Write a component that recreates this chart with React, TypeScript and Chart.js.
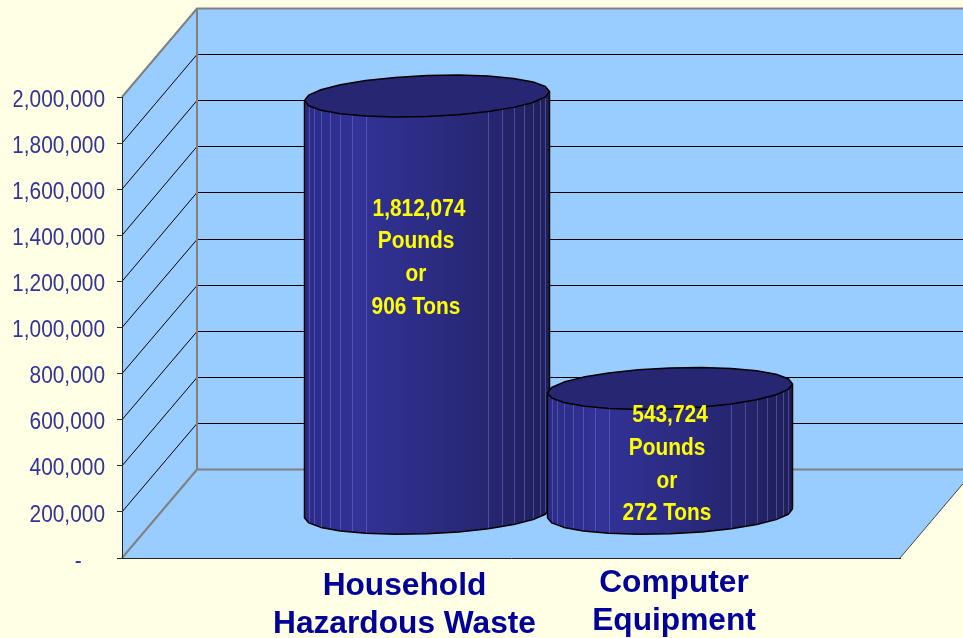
import React, { useEffect, useRef } from "react";
import { Chart, registerables } from "chart.js";

Chart.register(...registerables);

// ---- data ----
const categories = [["Household", "Hazardous Waste"], ["Computer", "Equipment"]];
const categoryPositions = [0, 1];
const pounds = [1812074, 543724];
const tons = [906, 272];
const yTicks = { min: 0, max: 2000000, step: 200000 };

// ---- layout and style ----
const W = 963;
const H = 638;
const AREA = { left: 122, right: 900, top: 97, bottom: 558 };
const DEPTH_X = 75;
const DEPTH_Y = 88.5;
const X_MIN = -1.1008;
const X_MAX = 2.1008;
const tickLabelPositions = [0.0617, 1.1708];
const tickLabelLift = [0, 3];
const BAR_WIDTH = 245;
const RY = 20.5;
const TILT = 4.5;
const SQUEEZE = 0.87;
const Y_LABEL_RIGHT = 105;
const valueLabelShift = [{ dx: -11, dy: 113 }, { dx: -3, dy: 27 }];
const BG = "#ffffe6";
const WALL = "#99ccff";
const AXIS_TEXT = "#333399";
const CAT_TEXT = "#000099";
const FONT = "'Liberation Sans', Arial, sans-serif";

const fmt = (v: number) => v.toLocaleString("en-US");

const backdrop = {
  id: "backdrop",
  beforeDraw(chart: any) {
    const { ctx, scales } = chart;
    const y = scales.y;
    const x0 = AREA.left;
    const x1 = AREA.left + DEPTH_X;
    const y0 = y.getPixelForValue(yTicks.min);
    const yTop = y.getPixelForValue(yTicks.max);
    const floorRightY = y0 - (DEPTH_Y * (W - AREA.right)) / DEPTH_X;
    ctx.save();
    ctx.fillStyle = BG;
    ctx.fillRect(0, 0, W, H);

    // walls and floor
    ctx.fillStyle = WALL;
    ctx.beginPath();
    ctx.moveTo(x0, yTop);
    ctx.lineTo(x1, yTop - DEPTH_Y);
    ctx.lineTo(W, yTop - DEPTH_Y);
    ctx.lineTo(W, floorRightY);
    ctx.lineTo(AREA.right, y0);
    ctx.lineTo(x0, y0);
    ctx.closePath();
    ctx.fill();

    // gridlines
    ctx.strokeStyle = "#000";
    ctx.lineWidth = 1;
    for (let v = yTicks.min + yTicks.step; v < yTicks.max; v += yTicks.step) {
      const py = y.getPixelForValue(v);
      const back = Math.floor(py - DEPTH_Y) + 0.5;
      ctx.beginPath();
      ctx.moveTo(x0, py);
      ctx.lineTo(x1, back);
      ctx.lineTo(W, back);
      ctx.stroke();
    }

    // outline of the walls
    ctx.strokeStyle = "#808080";
    ctx.lineWidth = 2;
    ctx.beginPath();
    ctx.moveTo(x0, yTop);
    ctx.lineTo(x1, yTop - DEPTH_Y);
    ctx.lineTo(W, yTop - DEPTH_Y);
    ctx.moveTo(x1, yTop - DEPTH_Y);
    ctx.lineTo(x1, y0 - DEPTH_Y);
    ctx.lineTo(W, y0 - DEPTH_Y);
    ctx.moveTo(x1, y0 - DEPTH_Y);
    ctx.lineTo(x0, y0);
    ctx.stroke();

    ctx.strokeStyle = "#444";
    ctx.lineWidth = 1;
    ctx.beginPath();
    ctx.moveTo(AREA.right, y0);
    ctx.lineTo(W, floorRightY);
    ctx.stroke();
    ctx.restore();

    // second category label sits slightly higher than the first
    const items = scales.x.getLabelItems?.();
    if (items && !items.__lifted) {
      items.forEach((it: any, i: number) => {
        if (it.options?.translation) it.options.translation[1] -= tickLabelLift[i] || 0;
      });
      items.__lifted = true;
    }

    // the value-axis labels are a horizontally condensed face in the reference
    if (!y.__squeezed) {
      const draw = y.drawLabels.bind(y);
      y.drawLabels = (area: any) => {
        ctx.save();
        ctx.translate(Y_LABEL_RIGHT, 0);
        ctx.scale(SQUEEZE, 1);
        ctx.translate(-Y_LABEL_RIGHT, 0);
        draw(area);
        ctx.restore();
      };
      y.__squeezed = true;
    }
  },
};

const cylinders = {
  id: "cylinders",
  afterDatasetsDraw(chart: any) {
    const { ctx } = chart;
    const meta = chart.getDatasetMeta(0);
    const dy = DEPTH_Y / 2;
    const dx = DEPTH_X / 2;
    const STEP = 15;
    const pt = (cx: number, yc: number, r: number, deg: number): [number, number] => {
      const a = (deg * Math.PI) / 180;
      return [cx + r * Math.cos(a), yc + RY * Math.sin(a) - TILT * Math.cos(a)];
    };

    meta.data.forEach((el: any, i: number) => {
      const r = el.width / 2;
      const cx = el.x + dx;
      const yt = el.y - dy;
      const yb = el.base - dy;
      ctx.save();
      ctx.lineJoin = "round";

      const grad = ctx.createLinearGradient(cx - r, 0, cx + r, 0);
      grad.addColorStop(0, "#2b2b86");
      grad.addColorStop(0.22, "#323298");
      grad.addColorStop(0.55, "#2b2b80");
      grad.addColorStop(0.8, "#25246c");
      grad.addColorStop(1, "#1f1f58");

      // body
      ctx.beginPath();
      const s = pt(cx, yt, r, 0);
      ctx.moveTo(s[0], s[1]);
      for (let d = 0; d <= 180; d += STEP) {
        const p = pt(cx, yb, r, d);
        ctx.lineTo(p[0], p[1]);
      }
      for (let d = 180; d >= 0; d -= STEP) {
        const p = pt(cx, yt, r, d);
        ctx.lineTo(p[0], p[1]);
      }
      ctx.closePath();
      ctx.fillStyle = grad;
      ctx.fill();

      // facet edges
      ctx.lineWidth = 1;
      ctx.strokeStyle = "rgba(110,115,210,0.5)";
      for (let d = 15; d <= 60; d += 7.5) {
        [d, 180 - d].forEach((deg) => {
          const a = pt(cx, yb, r, deg);
          const b = pt(cx, yt, r, deg);
          ctx.beginPath();
          ctx.moveTo(Math.round(a[0]) + 0.5, a[1]);
          ctx.lineTo(Math.round(a[0]) + 0.5, b[1]);
          ctx.stroke();
        });
      }

      // outline of body
      ctx.strokeStyle = "#000";
      ctx.lineWidth = 1.5;
      ctx.beginPath();
      ctx.moveTo(s[0], s[1]);
      for (let d = 0; d <= 180; d += STEP) {
        const p = pt(cx, yb, r, d);
        ctx.lineTo(p[0], p[1]);
      }
      const e = pt(cx, yt, r, 180);
      ctx.lineTo(e[0], e[1]);
      ctx.stroke();

      // top cap
      ctx.beginPath();
      for (let d = 0; d < 360; d += STEP) {
        const p = pt(cx, yt, r, d);
        if (d === 0) ctx.moveTo(p[0], p[1]);
        else ctx.lineTo(p[0], p[1]);
      }
      ctx.closePath();
      ctx.fillStyle = "#262673";
      ctx.fill();
      ctx.stroke();

      // value labels
      const shift = valueLabelShift[i];
      const lines = [fmt(pounds[i]), "Pounds", "or", `${tons[i]} Tons`];
      ctx.fillStyle = "#ffff00";
      ctx.font = `bold 24px ${FONT}`;
      ctx.textAlign = "center";
      ctx.textBaseline = "middle";
      lines.forEach((t, k) => {
        ctx.save();
        ctx.translate(cx + shift.dx + (k === 0 ? 3 : 0), yt + shift.dy + k * 32.8);
        ctx.scale(SQUEEZE, 1);
        ctx.fillText(t, 0, 0);
        ctx.restore();
      });
      ctx.restore();
    });
  },
};

export default function App() {
  const ref = useRef<HTMLCanvasElement | null>(null);

  useEffect(() => {
    document.body.style.background = BG;
    const chart = new Chart(ref.current as HTMLCanvasElement, {
      type: "bar",
      data: {
        datasets: [
          {
            label: "Pounds",
            data: categoryPositions.map((x, i) => ({ x, y: pounds[i] })),
            backgroundColor: "rgba(0,0,0,0)",
            borderWidth: 0,
            barThickness: BAR_WIDTH,
          },
        ],
      },
      options: {
        responsive: false,
        animation: false,
        devicePixelRatio: 1,
        layout: { padding: { top: AREA.top, right: W - AREA.right, left: 0, bottom: 0 } },
        plugins: { legend: { display: false }, title: { display: false }, tooltip: { enabled: false } },
        scales: {
          x: {
            type: "linear",
            offset: false,
            min: X_MIN,
            max: X_MAX,
            afterBuildTicks: (s: any) => {
              s.ticks = tickLabelPositions.map((value) => ({ value }));
            },
            afterFit: (s: any) => {
              s.height = H - AREA.bottom;
            },
            grid: { offset: false, drawOnChartArea: false, drawTicks: false },
            border: { display: true, color: "#222", width: 1 },
            ticks: {
              autoSkip: false,
              maxRotation: 0,
              padding: 9,
              color: CAT_TEXT,
              font: { family: FONT, size: 31.7, weight: "bold", lineHeight: 1.21 },
              callback: (_v: any, i: number) => categories[i],
            },
          },
          y: {
            min: yTicks.min,
            max: yTicks.max,
            afterFit: (s: any) => {
              s.width = AREA.left;
            },
            grid: { drawOnChartArea: false, drawTicks: true, tickLength: 5, color: "#333" },
            border: { display: true, color: "#222", width: 1 },
            ticks: {
              stepSize: yTicks.step,
              padding: 12,
              labelOffset: 3,
              color: AXIS_TEXT,
              font: { family: FONT, size: 24 },
              callback: (v: any) => (v === 0 ? "-\u00a0\u00a0\u00a0\u00a0" : fmt(v)),
            },
          },
        },
      },
      plugins: [backdrop, cylinders],
    } as any);
    return () => chart.destroy();
  }, []);

  return (
    <div style={{ position: "absolute", left: 0, top: 0, width: W, height: H }}>
      <canvas ref={ref} width={W} height={H} style={{ display: "block" }} />
    </div>
  );
}
